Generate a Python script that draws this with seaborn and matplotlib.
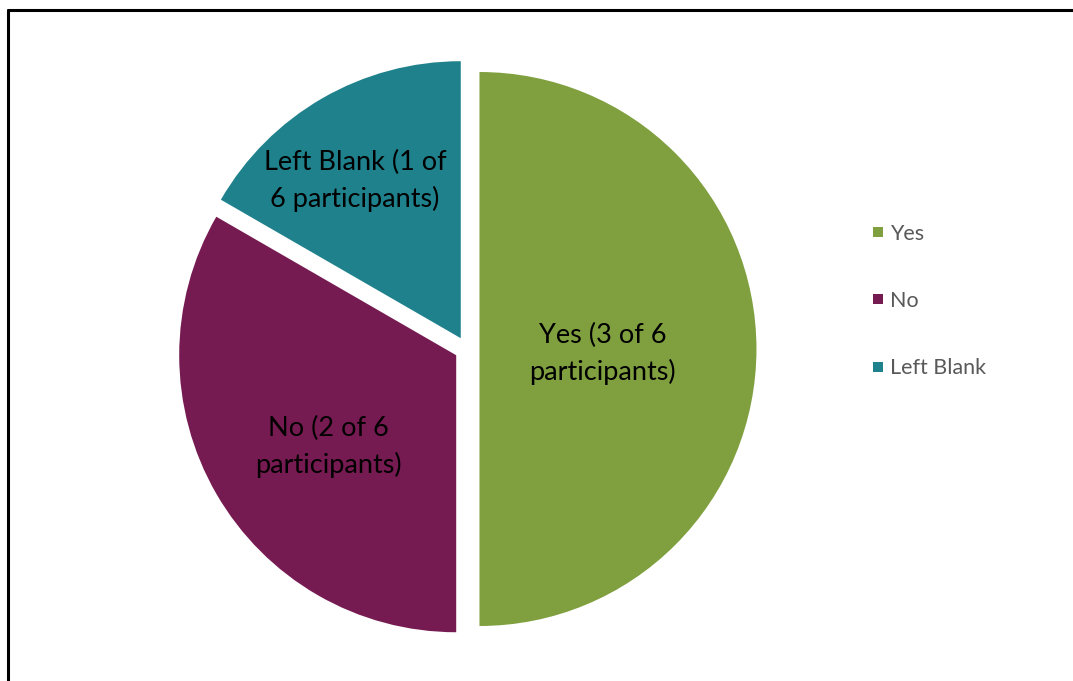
import matplotlib
matplotlib.use("Agg")
import matplotlib.pyplot as plt
import seaborn as sns
import numpy as np

# ---- data ----
categories = ["Yes", "No", "Left Blank"]
counts = [3, 2, 1]
total = 6
slice_labels = ["Yes (3 of 6\nparticipants)", "No (2 of 6\nparticipants)", "Left Blank (1 of\n6 participants)"]

# ---- style ----
colors = ["#80A040", "#761B52", "#1F818C"]
label_dist = [0.446, 0.568, 0.684]
label_ang_shift = [-2.3, 5.5, 3.9]

sns.set_theme(style="white")
plt.rcParams['font.family'] = ['Lato', 'DejaVu Sans']

W, H = 1073, 681
fig = plt.figure(figsize=(W / 100, H / 100), dpi=100)
ax = fig.add_axes([0, 0, 1, 1])

R = 277.0
cx_px, cy_px = 467.0, 349.0

wedges, _ = ax.pie(counts, colors=colors, startangle=90, counterclock=False,
                   explode=[0.045] * len(counts), radius=1, center=(0, 0),
                   wedgeprops=dict(linewidth=0), frame=False)

for w, lab, d, da in zip(wedges, slice_labels, label_dist, label_ang_shift):
    ang = np.deg2rad((w.theta1 + w.theta2) / 2 + da)
    cxw, cyw = w.center
    ax.text(cxw + d * np.cos(ang), cyw + d * np.sin(ang), lab,
            ha="center", va="center", fontsize=19.5, color="#000000",
            linespacing=1.52)

ax.set_xlim(-cx_px / R, (W - cx_px) / R)
ax.set_ylim(-(H - cy_px) / R, cy_px / R)
ax.set_aspect("equal")
ax.axis("off")

# legend
handles = [plt.Line2D([0], [0], marker="s", linestyle="", markersize=6.5,
                      markerfacecolor=c, markeredgewidth=0) for c in colors]
leg = fig.legend(handles, categories, loc="upper left",
                 bbox_to_anchor=(859 / W, 1 - 215 / H), frameon=False,
                 fontsize=15.5, labelspacing=2.2, handletextpad=0.05,
                 handlelength=1.0, borderaxespad=0)
for t in leg.get_texts():
    t.set_color("#595959")

# chart border (left and top visible, extends off right/bottom)
fig.add_artist(plt.Line2D([8 / W, 8 / W], [0, 1 - 10 / H], transform=fig.transFigure,
                          color="black", linewidth=2.2))
fig.add_artist(plt.Line2D([8 / W, 1], [1 - 10 / H, 1 - 10 / H], transform=fig.transFigure,
                          color="black", linewidth=2.2))

fig.savefig("out.png", dpi=100, facecolor="white")
